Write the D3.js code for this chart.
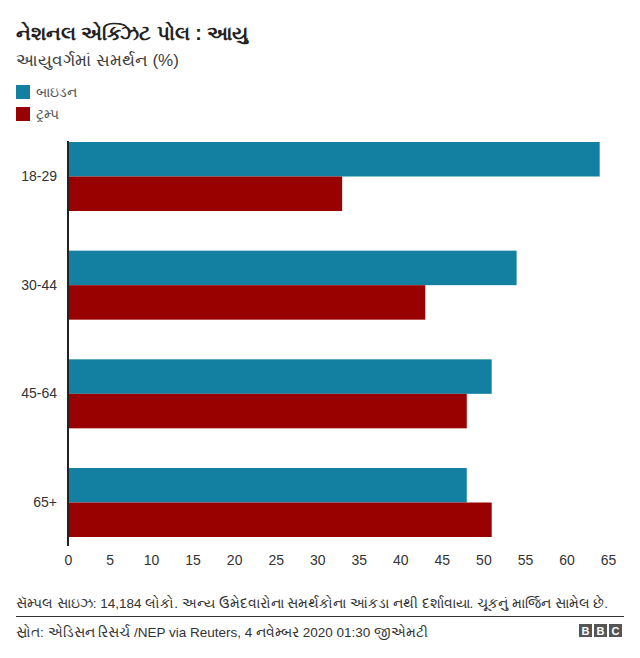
<!DOCTYPE html>
<html>
<head>
<meta charset="utf-8">
<script src="https://cdn.jsdelivr.net/npm/d3@7"></script>
<style>
  html, body { margin: 0; padding: 0; background: #fff; }
  svg text { font-family: "Liberation Sans", Arial, "Noto Sans", sans-serif; }
</style>
</head>
<body>
<svg id="chart" width="640" height="658"></svg>
<script>
const categories = ["18-29", "30-44", "45-64", "65+"];
const seriesNames = ["બાઇડન", "ટ્રમ્પ"];
const bidenValues = [64, 54, 51, 48];
const trumpValues = [33, 43, 48, 51];
const tickValues = [0, 5, 10, 15, 20, 25, 30, 35, 40, 45, 50, 55, 60, 65];
const colors = ["#1380A1", "#990000"];

const titleText = "નેશનલ એક્ઝિટ પોલ : આયુ";
const subtitleText = "આયુવર્ગમાં સમર્થન (%)";
const noteText = "સૅમ્પલ સાઇઝ: 14,184 લોકો. અન્ય ઉમેદવારોના સમર્થકોના આંકડા નથી દર્શાવાયા. ચૂકનું માર્જિન સામેલ છે.";
const sourceText = "સ્રોત: એડિસન રિસર્ચ /NEP via Reuters, 4 નવેમ્બર 2020 01:30 જીએમટી";

const svg = d3.select("#chart");

// Title & subtitle
svg.append("text").attr("x", 16).attr("y", 40)
  .attr("font-size", 19.5).attr("font-weight", "bold").attr("fill", "#222")
  .text(titleText);
svg.append("text").attr("x", 16).attr("y", 66)
  .attr("font-size", 17).attr("fill", "#404040")
  .text(subtitleText);

// Legend
const legend = svg.append("g");
seriesNames.forEach((name, i) => {
  const g = legend.append("g").attr("transform", `translate(16, ${85 + i * 22})`);
  g.append("rect").attr("width", 14).attr("height", 14).attr("fill", colors[i]);
  g.append("text").attr("x", 20).attr("y", 12).attr("font-size", 14).attr("fill", "#555").text(name);
});

// Scales
const x = d3.scaleLinear().domain([0, 65]).range([68, 608]);
const y = d3.scaleBand().domain(categories).range([142, 537]).paddingInner(0.365).paddingOuter(0);
const sub = d3.scaleBand().domain([0, 1]).range([0, y.bandwidth()]);

const data = categories.map((c, i) => ({ cat: c, vals: [bidenValues[i], trumpValues[i]] }));

const groups = svg.append("g").selectAll("g").data(data).join("g")
  .attr("transform", d => `translate(0, ${y(d.cat)})`);
groups.selectAll("rect").data(d => d.vals.map((v, k) => ({ v, k }))).join("rect")
  .attr("x", x(0))
  .attr("y", d => sub(d.k))
  .attr("width", d => x(d.v) - x(0))
  .attr("height", sub.bandwidth())
  .attr("fill", d => colors[d.k]);

// Y axis labels
const yAxis = d3.axisLeft(y).tickSize(0).tickPadding(11);
const yg = svg.append("g").attr("transform", `translate(${x(0)},0)`).call(yAxis);
yg.select(".domain").remove();
yg.selectAll("text").attr("font-size", 14).attr("fill", "#333").style("font-family", "Liberation Sans, Arial, sans-serif");

// Vertical axis line
svg.append("line").attr("x1", x(0)).attr("x2", x(0)).attr("y1", 141).attr("y2", 546)
  .attr("stroke", "#222").attr("stroke-width", 2);

// X axis
const xAxis = d3.axisBottom(x).tickValues(tickValues).tickSize(0).tickPadding(0);
const xg = svg.append("g").attr("transform", `translate(0, 555)`).call(xAxis);
xg.select(".domain").remove();
xg.selectAll("text").attr("font-size", 14).attr("fill", "#333").style("font-family", "Liberation Sans, Arial, sans-serif");

// Footer
svg.append("text").attr("x", 16).attr("y", 608).attr("font-size", 13.5).attr("fill", "#333").text(noteText);
svg.append("line").attr("x1", 16).attr("x2", 624).attr("y1", 616.5).attr("y2", 616.5)
  .attr("stroke", "#333").attr("stroke-width", 1);
svg.append("text").attr("x", 16).attr("y", 637).attr("font-size", 13.5).attr("fill", "#333").text(sourceText);

// BBC logo
const logo = svg.append("g").attr("transform", "translate(579, 624)");
["B", "B", "C"].forEach((ch, i) => {
  logo.append("rect").attr("x", i * 15).attr("y", 0).attr("width", 13).attr("height", 13).attr("fill", "#555");
  logo.append("text").attr("x", i * 15 + 6.5).attr("y", 11).attr("text-anchor", "middle")
    .attr("font-size", 11).attr("font-weight", "bold").attr("fill", "#fff").text(ch);
});
</script>
</body>
</html>
